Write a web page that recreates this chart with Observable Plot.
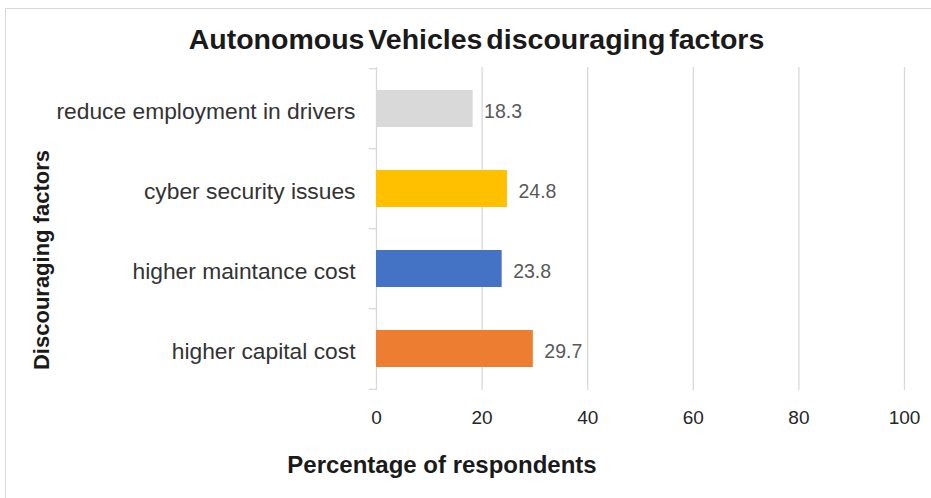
<!DOCTYPE html>
<html>
<head>
<meta charset="utf-8">
<script src="https://cdn.jsdelivr.net/npm/d3@7"></script>
<script src="https://cdn.jsdelivr.net/npm/@observablehq/plot@0.6"></script>
<style>
  html, body { margin: 0; padding: 0; background: #fff; }
  body { width: 931px; height: 498px; position: relative; overflow: hidden;
         font-family: "Liberation Sans", Arial, sans-serif; }
  #frame { position: absolute; left: 5px; top: 8px; width: 940px; height: 500px;
           border: 1px solid #d9d9d9; box-sizing: border-box; }
  #chart { position: absolute; left: 0; top: 0; }
  .lbl { position: absolute; white-space: nowrap; line-height: 1; font-weight: bold; color: #1a1a1a; }
  #title { left: 0; width: 953px; text-align: center; top: 25px; font-size: 28.5px; word-spacing: -4px; }
  #xlabel { left: 0; width: 884px; text-align: center; top: 453px; font-size: 24px; }
  #ylabel { left: 42px; top: 260px; font-size: 22px; transform: translate(-50%, -50%) rotate(-90deg); }
</style>
</head>
<body>
<div id="frame"></div>
<div id="chart"></div>
<div id="title" class="lbl">Autonomous Vehicles discouraging factors</div>
<div id="xlabel" class="lbl">Percentage of respondents</div>
<div id="ylabel" class="lbl">Discouraging factors</div>
<script>
const factors = ["reduce employment in drivers", "cyber security issues", "higher maintance cost", "higher capital cost"];
const values = [18.3, 24.8, 23.8, 29.7];
const colors = ["#d9d9d9", "#ffc000", "#4472c4", "#ed7d31"];
const xTicks = [0, 20, 40, 60, 80, 100];
const gridTicks = [20, 40, 60, 80, 100];

const data = factors.map((f, i) => ({factor: f, value: values[i], color: colors[i]}));

const W = 931, H = 498, mT = 67, mB = 108, mL = 376, mR = 27;
const step = (H - mT - mB) / factors.length;

const chart = Plot.plot({
  width: W,
  height: H,
  marginLeft: mL,
  marginRight: mR,
  marginTop: mT,
  marginBottom: mB,
  style: {fontFamily: "'Liberation Sans', Arial, sans-serif", background: "transparent", overflow: "visible"},
  x: {domain: [0, 100], axis: null},
  y: {domain: factors, paddingInner: 0.54, paddingOuter: 0.27, axis: null},
  color: {type: "identity"},
  marks: [
    Plot.gridX(gridTicks, {stroke: "#d9d9d9", strokeOpacity: 1, strokeWidth: 1.3}),
    Plot.ruleX([0], {stroke: "#d9d9d9", strokeWidth: 1.3}),
    Plot.ruleY(factors, {y: d => d, x1: -1.35, x2: 0, dy: -step / 2, stroke: "#d9d9d9", strokeWidth: 1.3}),
    Plot.ruleY(factors.slice(-1), {y: d => d, x1: -1.35, x2: 0, dy: step / 2, stroke: "#d9d9d9", strokeWidth: 1.3}),
    Plot.barX(data, {x: "value", y: "factor", fill: "color"}),
    Plot.text(data, {x: "value", y: "factor", text: d => d.value.toFixed(1), textAnchor: "start",
                     dx: 11, dy: 3, fill: "#595959", fontSize: 19.5}),
    Plot.axisY({tickSize: 0, tickPadding: 21, fontSize: 22.8, dy: 3, color: "#333333", label: null}),
    Plot.axisX(xTicks, {tickSize: 0, tickPadding: 20, fontSize: 19, color: "#262626", label: null})
  ]
});
document.getElementById("chart").appendChild(chart);
</script>
</body>
</html>
